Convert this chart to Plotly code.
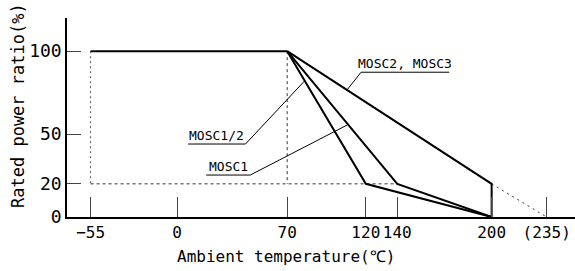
import plotly.graph_objects as go

# ---- data ----
flat_temp = [-55, 70]
flat_ratio = [100, 100]

mosc12_temp = [70, 120, 200]
mosc12_ratio = [100, 20, 0]

mosc1_temp = [70, 140, 200]
mosc1_ratio = [100, 20, 0]

mosc23_temp = [70, 200, 200]
mosc23_ratio = [100, 20, 0]

extrap_temp = [200, 235]
extrap_ratio = [20, 0]

guide_v1_temp = [-55, -55]
guide_v1_ratio = [100, 20]
guide_h_temp = [-55, 140]
guide_h_ratio = [20, 20]
guide_v2_temp = [70, 70]
guide_v2_ratio = [100, 20]

x_ticks = [-55, 0, 70, 120, 140, 200, 235]
x_tick_text = ["−55", "0", "70", "120", "140", "200", "(235)"]
y_ticks = [0, 20, 50, 100]
y_tick_text = ["0", "20", "50", "100"]

FONT = "DejaVu Sans Mono"

fig = go.Figure()

solid = dict(color="black", width=2)
dash = dict(color="#333333", width=1, dash="3px,3px")

for xs, ys, ln in [
    (guide_v1_temp, guide_v1_ratio, dict(color="#555555", width=1, dash="2px,3px")),
    (guide_h_temp, guide_h_ratio, dash),
    (guide_v2_temp, guide_v2_ratio, dash),
    (extrap_temp, extrap_ratio, dict(color="#333333", width=1, dash="2px,4px")),
    (flat_temp, flat_ratio, solid),
    (mosc12_temp, mosc12_ratio, solid),
    (mosc1_temp, mosc1_ratio, solid),
    (mosc23_temp, mosc23_ratio, solid),
]:
    fig.add_trace(go.Scatter(x=xs, y=ys, mode="lines", line=ln,
                             showlegend=False, hoverinfo="skip"))

# label leader lines (underline + pointer), data coords
leaders = [
    # (underline x0, x1, y, pointer end x, end y)
    (117, 173, 87.3, 108, 76.6),
    (7, 43.5, 44.0, 81, 82.0),
    (18.5, 46.5, 25.3, 108, 55.4),
]
for ux0, ux1, uy, ex, ey in leaders:
    fig.add_shape(type="line", x0=ux0, x1=ux1, y0=uy, y1=uy,
                  xref="x", yref="y", line=dict(color="black", width=1))
    fig.add_shape(type="line", x0=ux1 if ex > ux1 else ux0, x1=ex, y0=uy, y1=ey,
                  xref="x", yref="y", line=dict(color="black", width=1))

labels = [
    ("MOSC2, MOSC3", 145, 87.3),
    ("MOSC1/2", 25.2, 44.0),
    ("MOSC1", 32.5, 25.3),
]
for txt, x, y in labels:
    fig.add_annotation(text=txt, x=x, y=y, xref="x", yref="y",
                       showarrow=False, yanchor="bottom", yshift=-1,
                       font=dict(family=FONT, size=13, color="black"))

W, H = 575, 271
L, R, T, B = 67, 0, 18, 54
pw, ph = W - L - R, H - T - B

def px(x):
    return (x - L) / pw

def py(y):
    return (H - B - y) / ph

# axis titles (positioned in pixels, converted to paper coords)
fig.add_annotation(text="Ambient temperature(℃)", x=px(286), y=py(256),
                   xref="paper", yref="paper", showarrow=False,
                   xanchor="center", yanchor="middle",
                   font=dict(family=FONT, size=16, color="black"))
fig.add_annotation(text="Rated power ratio(%)", x=px(18), y=py(106),
                   xref="paper", yref="paper", showarrow=False, textangle=-90,
                   xanchor="center", yanchor="middle",
                   font=dict(family=FONT, size=17, color="black"))

fig.update_layout(
    width=W, height=H,
    margin=dict(l=L, r=R, t=T, b=B, pad=0, autoexpand=False),
    plot_bgcolor="white", paper_bgcolor="white",
    font=dict(family=FONT, color="black"),
    xaxis=dict(range=[-70, 253], showgrid=False, zeroline=False, automargin=False,
               showline=True, linecolor="black", linewidth=1.5,
               ticks="inside", ticklen=20, tickwidth=1, tickcolor="#444444",
               tickvals=x_ticks, ticktext=x_tick_text,
               tickfont=dict(family=FONT, size=16, color="black")),
    yaxis=dict(range=[0, 120], showgrid=False, zeroline=False, automargin=False,
               showline=True, linecolor="black", linewidth=1.5,
               ticks="inside", ticklen=14, tickwidth=1, tickcolor="#444444",
               tickvals=y_ticks, ticktext=y_tick_text,
               tickfont=dict(family=FONT, size=18, color="black")),
)

fig.write_html("out.html", config={"displayModeBar": False},
               post_script="document.body.style.margin='0px';document.body.style.overflow='hidden';")
